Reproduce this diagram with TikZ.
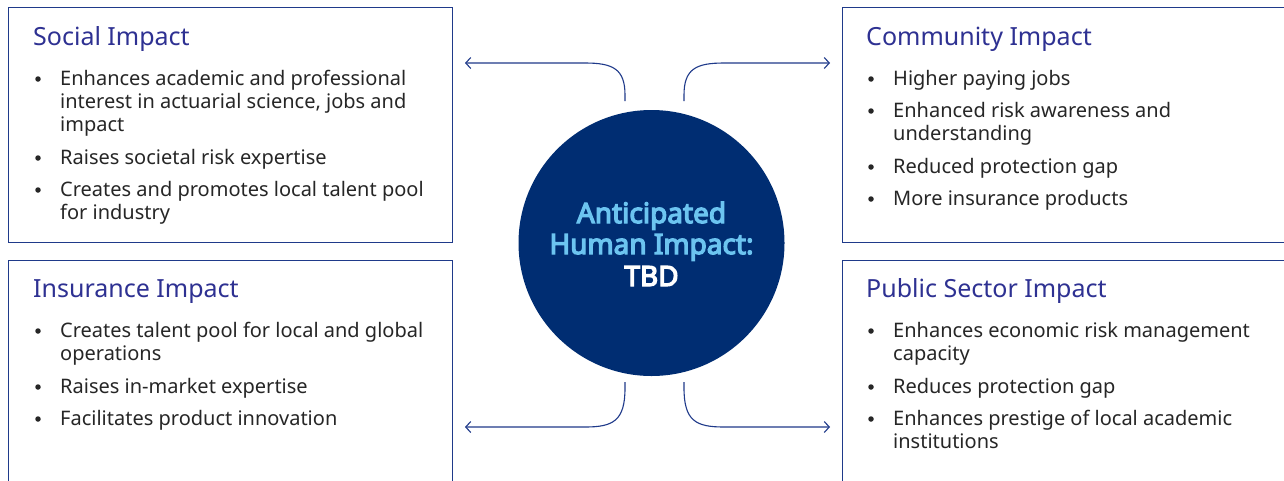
\documentclass[tikz,border=0pt]{standalone}
\usepackage{fontspec}
\setmainfont{Noto Sans}
\newfontfamily\hubfont{Noto Sans}[AutoFakeBold=4.5]
\usetikzlibrary{arrows.meta}
\definecolor{boxblue}{RGB}{31,58,138}
\definecolor{titleblue}{RGB}{46,49,146}
\definecolor{bodygrey}{RGB}{38,38,38}
\definecolor{navy}{RGB}{0,45,114}
\definecolor{skyblue}{RGB}{108,196,240}
\tikzset{
  panel/.style={draw=boxblue, line width=1.2pt, anchor=north west, inner sep=0pt, minimum width=#1},
  panel/.default=444pt,
  ttl/.style={anchor=base west, inner sep=0pt, text=titleblue, font=\fontsize{25}{28}\selectfont},
  txt/.style={anchor=base west, inner sep=0pt, text=bodygrey, font=\fontsize{20}{23}\selectfont},
  bul/.style={circle, fill=bodygrey, inner sep=0pt, minimum size=5.5pt},
  hubtxt/.style={anchor=base, inner sep=0pt, font=\hubfont\fontsize{28}{32}\bfseries\selectfont},
  link/.style={draw=boxblue, line width=1.1pt, -{Straight Barb[length=5pt,width=11pt,line width=1.1pt]}}
}
\begin{document}
\begin{tikzpicture}[x=1pt,y=-1pt]
\clip (0,0) rectangle (1284,480);
\fill[white] (0,0) rectangle (1284,480);
% panels
\node[panel, minimum height=235pt] (social) at (8,7) {};
\node[panel, minimum height=240pt] (insurance) at (8,260) {};
\node[panel=460pt, minimum height=235pt] (community) at (842,7) {};
\node[panel=460pt, minimum height=240pt] (public) at (842,260) {};
% hub
\node[circle, fill=navy, minimum size=266pt, inner sep=0pt] (hub) at (651.5,243) {};
\node[hubtxt, text=skyblue] (h1) at (651.5,223) {Anticipated};
\node[hubtxt, text=skyblue] (h2) at (651.5,254) {Human Impact:};
\node[hubtxt, text=white] (h3) at (651.5,286) {TBD};
% Social
\node[ttl] (t1) at (33,45) {Social Impact};
\node[bul] (s1d) at (38,79) {};
\node[txt] (s1a) at (60,85) {Enhances academic and professional};
\node[txt] (s1b) at (60,108) {interest in actuarial science, jobs and};
\node[txt] (s1c) at (60,131) {impact};
\node[bul] (s2d) at (38,158) {};
\node[txt] (s2a) at (60,164) {Raises societal risk expertise};
\node[bul] (s3d) at (38,190) {};
\node[txt] (s3a) at (60,196) {Creates and promotes local talent pool};
\node[txt] (s3b) at (60,219) {for industry};
% Community
\node[ttl] (t2) at (866,45) {Community Impact};
\node[bul] (c1d) at (871,79) {};
\node[txt] (c1a) at (893,85) {Higher paying jobs};
\node[bul] (c2d) at (871,111) {};
\node[txt] (c2a) at (893,117) {Enhanced risk awareness and};
\node[txt] (c2b) at (893,140) {understanding};
\node[bul] (c3d) at (871,167) {};
\node[txt] (c3a) at (893,173) {Reduced protection gap};
\node[bul] (c4d) at (871,199) {};
\node[txt] (c4a) at (893,205) {More insurance products};
% Insurance
\node[ttl] (t3) at (33,297) {Insurance Impact};
\node[bul] (i1d) at (38,331) {};
\node[txt] (i1a) at (60,337) {Creates talent pool for local and global};
\node[txt] (i1b) at (60,360) {operations};
\node[bul] (i2d) at (38,387) {};
\node[txt] (i2a) at (60,393) {Raises in-market expertise};
\node[bul] (i3d) at (38,419) {};
\node[txt] (i3a) at (60,425) {Facilitates product innovation};
% Public
\node[ttl] (t4) at (866,297) {Public Sector Impact};
\node[bul] (p1d) at (871,331) {};
\node[txt] (p1a) at (893,337) {Enhances economic risk management};
\node[txt] (p1b) at (893,360) {capacity};
\node[bul] (p2d) at (871,387) {};
\node[txt] (p2a) at (893,393) {Reduces protection gap};
\node[bul] (p3d) at (871,419) {};
\node[txt] (p3a) at (893,425) {Enhances prestige of local academic};
\node[txt] (p3b) at (893,448) {institutions};
% connectors
\coordinate (a1s) at (625,101); \coordinate (a1e) at (465,63);
\coordinate (a2s) at (684,101); \coordinate (a2e) at (830,63);
\coordinate (a3s) at (625,382); \coordinate (a3e) at (465,427);
\coordinate (a4s) at (684,382); \coordinate (a4e) at (830,427);
\draw[link] (a1s) -- ++(0,-6) .. controls ++(0,-26) and ++(28,0) .. ([xshift=-40pt]a1s |- a1e) -- (a1e);
\draw[link] (a2s) -- ++(0,-6) .. controls ++(0,-26) and ++(-28,0) .. ([xshift=40pt]a2s |- a2e) -- (a2e);
\draw[link] (a3s) -- ++(0,6) .. controls ++(0,33) and ++(28,0) .. ([xshift=-40pt]a3s |- a3e) -- (a3e);
\draw[link] (a4s) -- ++(0,6) .. controls ++(0,33) and ++(-28,0) .. ([xshift=40pt]a4s |- a4e) -- (a4e);
\end{tikzpicture}
\end{document}
